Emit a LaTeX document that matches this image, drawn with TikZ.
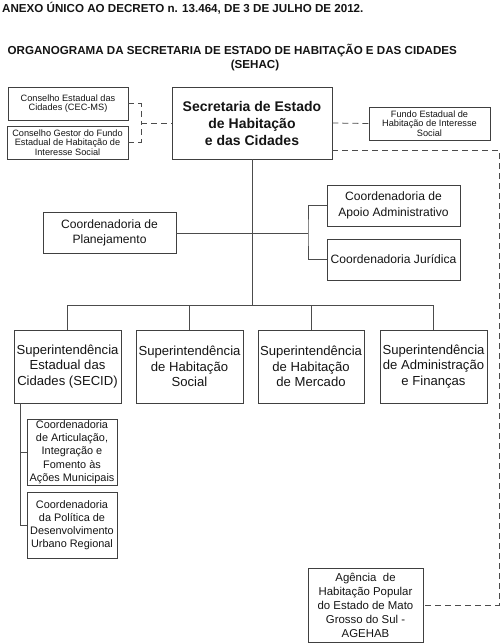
\documentclass[tikz,border=0pt]{standalone}
\usepackage{fontspec}
\setmainfont{Liberation Sans}
\usepackage{tikz}
\usetikzlibrary{positioning, calc}

\begin{document}
\begin{tikzpicture}[
  x=1pt, y=-1pt,
  block/.style={draw=black!75, line width=0.8pt, align=center, inner sep=0pt, text=black!92},
  secr/.style={block, minimum width=160pt, minimum height=72pt, font=\fontsize{14}{17}\selectfont\bfseries},
  council/.style={block, minimum width=120pt, minimum height=33pt, font=\fontsize{9.2}{9.6}\selectfont},
  coordn/.style={block, minimum width=133pt, minimum height=41pt, font=\fontsize{12.1}{15.3}\selectfont},
  superint/.style={block, minimum width=107pt, minimum height=73pt, font=\fontsize{13.1}{15.3}\selectfont},
  subunit/.style={block, minimum width=90pt, minimum height=66pt, font=\fontsize{10.9}{13.2}\selectfont},
  agency/.style={block, minimum width=115pt, minimum height=74pt, font=\fontsize{11.4}{14}\selectfont},
  heading/.style={inner sep=0pt, text=black!92, font=\fontsize{11.6}{14}\selectfont\bfseries},
  link/.style={draw=black!70, line width=0.8pt},
  dlink/.style={link, dash pattern=on 6pt off 4pt}
]
\useasboundingbox (0,0) rectangle (500,643);

% titles
\node[heading, anchor=west] (annex) at (2,8) {ANEXO ÚNICO AO DECRETO n. 13.464, DE 3 DE JULHO DE 2012.};
\node[heading, anchor=west] (title) at (7.5,51) {ORGANOGRAMA DA SECRETARIA DE ESTADO DE HABITAÇÃO E DAS CIDADES};
\node[heading] (acronym) at (255,65) {(SEHAC)};

% top level
\node[secr] (sehac) at (252,123) {Secretaria de Estado\\de Habitação\\e das Cidades};
\node[council] (cec) at (68,103.5) {Conselho Estadual das\\Cidades (CEC-MS)};
\node[council, minimum width=121pt] (gestor) at (67.5,142.5) {Conselho Gestor do Fundo\\Estadual de Habitação de\\Interesse Social};
\node[council, minimum width=121pt] (fundo) at (429.5,123.5) {Fundo Estadual de\\Habitação de Interesse\\Social};

% coordenadorias
\node[coordn] (plan) at (109.5,233) {Coordenadoria de\\Planejamento};
\node[coordn] (apoio) at (393.5,205.5) {Coordenadoria de\\Apoio Administrativo};
\node[coordn] (jur) at (393.5,259.5) {Coordenadoria Jurídica};

% superintendencias
\node[superint] (secid) at (67.5,366.5) {Superintendência\\Estadual das\\Cidades (SECID)};
\node[superint] (social) at (189.5,366.5) {Superintendência\\de Habitação\\Social};
\node[superint, minimum width=106pt] (mercado) at (311,366.5) {Superintendência\\de Habitação\\de Mercado};
\node[superint] (adm) at (433.5,366.5) {Superintendência\\de Administração\\e Finanças};

% SECID units
\node[subunit] (artic) at (72,452) {Coordenadoria\\de Articulação,\\Integração e\\Fomento às\\Ações Municipais};
\node[subunit] (polit) at (72,525) {Coordenadoria\\da Política de\\Desenvolvimento\\Urbano Regional};

\node[agency] (agehab) at (365.5,605) {Agência~ de\\Habitação Popular\\do Estado de Mato\\Grosso do Sul -\\AGEHAB};

% junction points
\coordinate (cbr) at (141,123);
\coordinate (cjn) at (308,233);
\coordinate (bus) at (252,305);
\coordinate (sst) at (20,403);
\coordinate (edge) at (499,150);

% solid links
\draw[link] (sehac.south) -- (bus);
\draw[link] (plan.east) -- (plan.east -| cjn);
\draw[link] (apoio.west) -| (cjn) |- (jur.west);
\foreach \s in {secid, social, mercado, adm}
  \draw[link] (bus) -| (\s.north);
\draw[link] (sst) |- (artic.west);
\draw[link] (sst) |- (polit.west);

% dashed links
\draw[dlink] (cec.east) -| (cbr);
\draw[dlink] (gestor.east) -| (cbr);
\draw[dlink] (cbr) -- (sehac.west);
\draw[dlink] (sehac.east) -- (fundo.west);
\draw[dlink] (sehac.east |- edge) -- (edge) |- (agehab.east);
\end{tikzpicture}
\end{document}
